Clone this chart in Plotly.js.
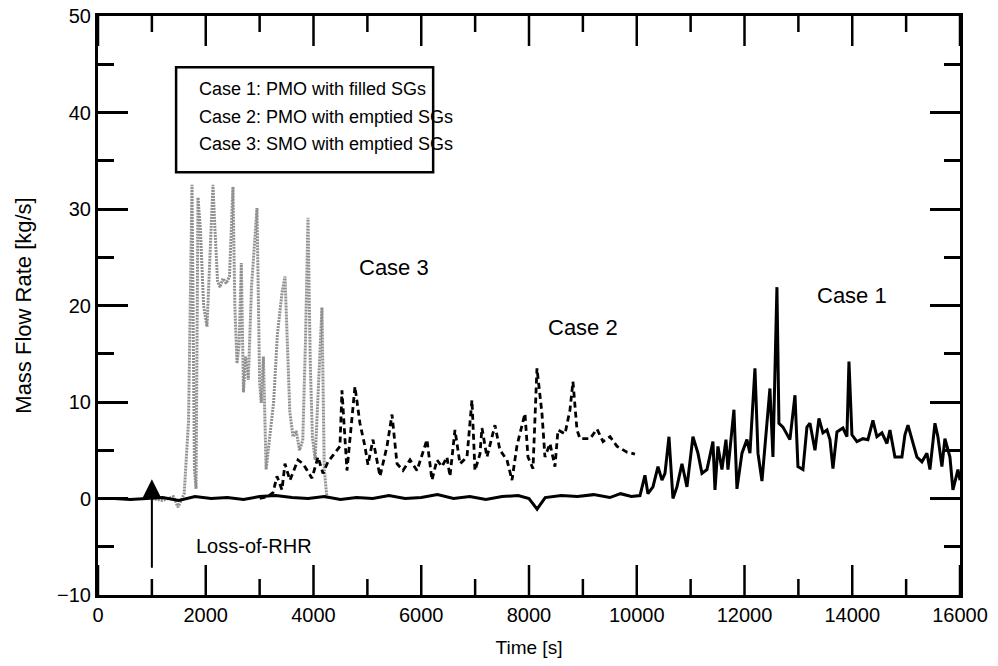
<!DOCTYPE html>
<html>
<head>
<meta charset="utf-8">
<script src="https://cdn.plot.ly/plotly-3.0.1.min.js"></script>
<style>html,body{margin:0;padding:0;background:#fff;}#chart{width:998px;height:666px;}</style>
</head>
<body>
<div id="chart"></div>
<script>
// ---- Data ----
const case1Time = [0,300,600,900,1200,1500,1800,2100,2400,2700,3000,3300,3600,3900,4200,4500,4800,5100,5400,5700,6000,6300,6600,6900,7200,7500,7800,8000,8150,8300,8600,8900,9200,9500,9700,9900,10060,
  10152,10208,10301,10394,10468,10524,10598,10672,10746,10839,10932,11043,11136,11210,11303,11414,11452,11507,11581,11656,11693,11804,11860,11953,12045,12101,12194,12250,12324,12380,12472,12528,12602,12639,12714,12843,12881,12937,12992,13085,13159,13215,13308,13382,13456,13530,13586,13642,13716,13827,13901,13939,13994,14087,14198,14291,14384,14458,14551,14644,14700,14792,14922,14978,15034,15108,15200,15293,15386,15442,15535,15590,15664,15720,15813,15869,15962,16000];
const case1Flow = [0,0,-0.1,0,0.1,-0.2,0.2,0,0.1,-0.1,0.2,0.3,0.1,0,0.2,-0.1,0.1,0,0.3,0,0.1,0.4,0,0.2,-0.1,0.2,0.3,0,-1.1,0.1,0.3,0.2,0.4,0.1,0.5,0.2,0.3,
  2.4,0.5,1.2,3.3,1.9,2.6,6.4,0.0,1.2,3.6,1.2,6.4,4.7,2.6,3.0,5.9,0.9,5.4,3.0,6.1,3.0,9.2,1.0,4.7,6.1,4.7,13.5,4.7,1.8,5.4,11.4,4.3,21.9,7.8,7.4,6.1,8.0,10.7,3.3,3.0,7.4,7.8,5.0,8.3,6.8,7.1,6.1,3.1,6.9,7.3,6.4,14.2,6.6,5.9,6.2,6.1,8.1,6.4,6.8,5.7,7.1,4.3,4.3,6.6,7.6,6.1,4.3,3.8,4.7,3.0,7.8,6.4,3.3,6.2,4.3,0.9,3.0,1.9];

const case2Time = [3000,3150,3248,3322,3415,3470,3563,3712,3805,3972,4083,4176,4268,4491,4528,4621,4770,4862,4955,5011,5104,5234,5364,5457,5550,5661,5791,5921,6032,6106,6199,6292,6385,6477,6533,6626,6719,6849,6941,6997,7090,7127,7220,7368,7461,7591,7684,7777,7925,7981,8074,8148,8241,8296,8389,8482,8538,8668,8761,8816,8891,8946,9132,9262,9374,9504,9634,9819,9967];
const case2Flow = [0,0.2,0.6,2.3,0.9,3.6,1.9,4.0,3.6,2.1,4.3,2.6,3.8,5.4,11.2,2.9,11.6,7.8,5.4,3.5,6.1,2.3,5.4,8.7,3.6,2.9,4.0,2.9,4.8,6.1,1.9,4.0,3.3,4.3,2.3,7.1,3.6,4.3,10.2,2.9,4.6,7.3,4.3,7.6,5.0,4.0,1.9,5.5,8.8,4.3,3.1,13.5,8.8,4.3,5.7,3.3,7.1,6.7,9.2,12.1,7.1,6.2,6.2,7.2,5.9,6.4,5.4,4.8,4.6];

const case3Time = [1000,1200,1400,1485,1600,1680,1745,1790,1820,1856,1900,1960,2023,2080,2134,2170,2220,2264,2320,2380,2440,2505,2540,2580,2620,2660,2700,2740,2790,2850,2920,2951,3000,3030,3070,3120,3180,3260,3330,3415,3471,3520,3560,3620,3680,3740,3800,3850,3898,3940,3980,4030,4080,4157,4200,4250];
const case3Flow = [0,-0.2,0.2,-0.9,0.5,8,32.5,3,1,31.2,28,20,17.8,26,32.5,28,22.5,21.9,22.8,22.3,23,32.3,20,14,16,24.4,11,14.7,12.3,22,28,30.1,12,9.9,14.7,3,6,10,17,21.3,23,15,9,6.4,7,5,6,16,29.1,14,6.4,4,10,19.8,3,0];

const xTicks = [0,2000,4000,6000,8000,10000,12000,14000,16000];
const yTicks = [-10,0,10,20,30,40,50];
const legendLines = ["Case 1: PMO with filled SGs","Case 2: PMO with emptied SGs","Case 3: SMO with emptied SGs"];
const caseLabels = ["Case 1","Case 2","Case 3"];

// minor ticks halfway between the labelled ones
const xMinor = xTicks.slice(1).map((v, i) => (v + xTicks[i]) / 2);
const yMinor = yTicks.slice(1).map((v, i) => (v + yTicks[i]) / 2);

const FONT = "Liberation Sans, Arial, sans-serif";
const Y0 = yTicks[0], Y1 = yTicks[yTicks.length - 1];
// tick lengths expressed in y units (plot height 579 px spans 60 units)
const PX_PER_UNIT = 579 / (Y1 - Y0);
const MAJ_U = 30 / PX_PER_UNIT, MIN_U = 16 / PX_PER_UNIT;

// x-axis tick marks (bottom and top) built from the tick arrays
const tickX = [], tickY = [];
function addXTicks(vals, lenU) {
  vals.forEach(v => {
    tickX.push(v, v, null, v, v, null);
    tickY.push(Y0, Y0 + lenU, null, Y1, Y1 - lenU, null);
  });
}
addXTicks(xTicks, MAJ_U);
addXTicks(xMinor, MIN_U);

const traces = [
  {x: case3Time, y: case3Flow, mode: 'lines', line: {color: '#909090', width: 3, dash: '2px,1px'}, showlegend: false, hoverinfo: 'skip'},
  {x: case2Time, y: case2Flow, mode: 'lines', line: {color: '#000', width: 2.8, dash: '6px,4px'}, showlegend: false, hoverinfo: 'skip'},
  {x: case1Time, y: case1Flow, mode: 'lines', line: {color: '#000', width: 3}, showlegend: false, hoverinfo: 'skip'},
  {x: tickX, y: tickY, mode: 'lines', line: {color: '#000', width: 2.5}, connectgaps: false, showlegend: false, hoverinfo: 'skip', cliponaxis: false}
];

const layout = {
  width: 998, height: 666,
  margin: {l: 98, r: 38, t: 16, b: 71},
  showlegend: false,
  xaxis: {
    range: [0, 16000], showline: true, linewidth: 3, linecolor: '#000', mirror: true,
    ticks: '', tickmode: 'array', tickvals: xTicks, tickformat: 'd',
    showgrid: false, zeroline: false,
    tickfont: {family: FONT, size: 20, color: '#000'},
    title: {text: 'Time [s]', font: {family: FONT, size: 19, color: '#000'}, standoff: 16}
  },
  yaxis: {
    range: [Y0, Y1], showline: true, linewidth: 3, linecolor: '#000', mirror: 'ticks',
    ticks: 'inside', ticklen: 30, tickwidth: 2.5, tickcolor: '#000',
    tickmode: 'array', tickvals: yTicks,
    minor: {tickmode: 'array', tickvals: yMinor, ticks: 'inside', ticklen: 16, tickwidth: 2.5, tickcolor: '#000'},
    showgrid: false, zeroline: false,
    tickfont: {family: FONT, size: 20, color: '#000'},
    title: {text: 'Mass Flow Rate [kg/s]', font: {family: FONT, size: 22, color: '#000'}, standoff: 20}
  },
  shapes: [
    {type: 'rect', xref: 'paper', yref: 'paper', x0: 0.0906, x1: 0.3888, y0: 0.730, y1: 0.9117, line: {color: '#000', width: 2.5}}
  ],
  annotations: [
    {xref: 'paper', yref: 'paper', x: 0.115, y: 0.8733, text: legendLines[0], showarrow: false, xanchor: 'left', yanchor: 'middle', font: {family: FONT, size: 18, color: '#000'}},
    {xref: 'paper', yref: 'paper', x: 0.115, y: 0.825, text: legendLines[1], showarrow: false, xanchor: 'left', yanchor: 'middle', font: {family: FONT, size: 18, color: '#000'}},
    {xref: 'paper', yref: 'paper', x: 0.115, y: 0.7783, text: legendLines[2], showarrow: false, xanchor: 'left', yanchor: 'middle', font: {family: FONT, size: 18, color: '#000'}},
    {xref: 'paper', yref: 'paper', x: 0.875, y: 0.5167, text: caseLabels[0], showarrow: false, xanchor: 'center', yanchor: 'middle', font: {family: FONT, size: 22, color: '#000'}},
    {xref: 'paper', yref: 'paper', x: 0.5625, y: 0.4617, text: caseLabels[1], showarrow: false, xanchor: 'center', yanchor: 'middle', font: {family: FONT, size: 22, color: '#000'}},
    {xref: 'paper', yref: 'paper', x: 0.34375, y: 0.565, text: caseLabels[2], showarrow: false, xanchor: 'center', yanchor: 'middle', font: {family: FONT, size: 22, color: '#000'}},
    {xref: 'paper', yref: 'paper', x: 0.18125, y: 0.085, text: 'Loss-of-RHR', showarrow: false, xanchor: 'center', yanchor: 'middle', font: {family: FONT, size: 20, color: '#000'}},
    {xref: 'paper', yref: 'paper', x: 0.0625, y: 0.2, ax: 0, ay: 90, text: '', showarrow: true,
     arrowhead: 2, arrowsize: 1.9, arrowwidth: 2, arrowcolor: '#000'}
  ]
};

Plotly.newPlot('chart', traces, layout, {displayModeBar: false});
</script>
</body>
</html>
